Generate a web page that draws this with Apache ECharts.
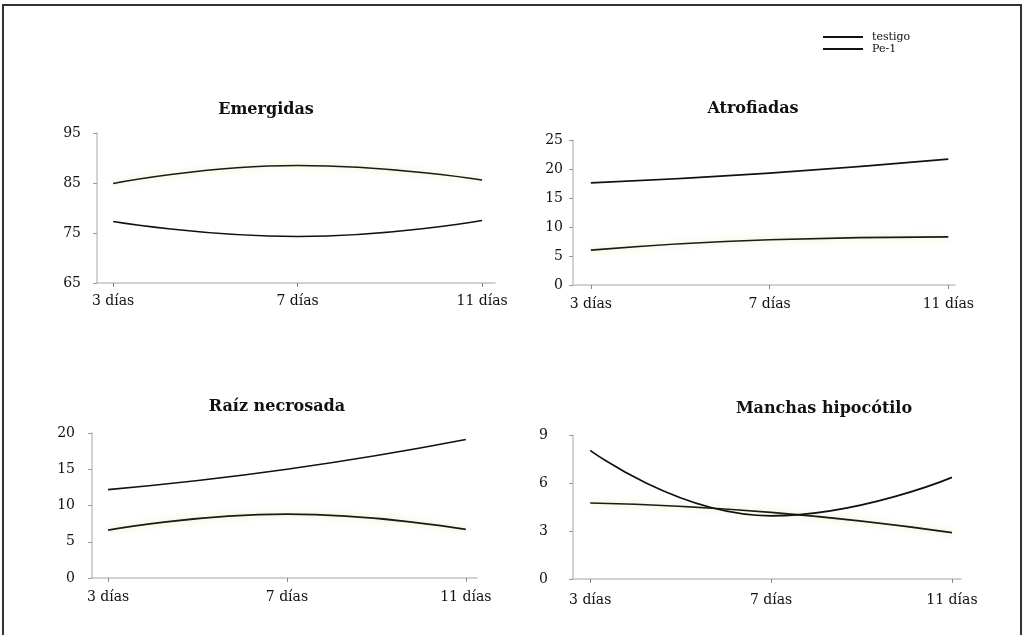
<!DOCTYPE html>
<html>
<head>
<meta charset="utf-8">
<script src="https://cdn.jsdelivr.net/npm/echarts@6/dist/echarts.min.js"></script>
<style>
  html, body { margin: 0; padding: 0; background: #ffffff; }
  #chart { width: 1025px; height: 635px; }
</style>
</head>
<body>
<div id="chart"></div>
<script>
// Sampling days and their axis labels
const days = [3, 7, 11];
const categories = ['3 días', '7 días', '11 días'];
const seriesNames = ['testigo', 'Pe-1'];

// Panel titles
const titles = ['Emergidas', 'Atrofiadas', 'Raíz necrosada', 'Manchas hipocótilo'];

// Values per panel
const testigoEmergidas = [84.9, 88.5, 85.6];
const pe1Emergidas = [77.3, 74.3, 77.5];
const testigoAtrofiadas = [6.0, 7.8, 8.3];
const pe1Atrofiadas = [17.6, 19.3, 21.7];
const testigoRaiz = [6.6, 8.8, 6.7];
const pe1Raiz = [12.2, 15.0, 19.1];
const testigoManchas = [4.75, 4.16, 2.9];
const pe1Manchas = [8.04, 3.95, 6.35];

// Y tick labels per panel
const ticksEmergidas = [65, 75, 85, 95];
const ticksAtrofiadas = [0, 5, 10, 15, 20, 25];
const ticksRaiz = [0, 5, 10, 15, 20];
const ticksManchas = [0, 3, 6, 9];

const panelData = [
  { testigo: testigoEmergidas, pe1: pe1Emergidas, ticks: ticksEmergidas },
  { testigo: testigoAtrofiadas, pe1: pe1Atrofiadas, ticks: ticksAtrofiadas },
  { testigo: testigoRaiz, pe1: pe1Raiz, ticks: ticksRaiz },
  { testigo: testigoManchas, pe1: pe1Manchas, ticks: ticksManchas }
];

// Panel layout (pixels) and the day range spanned by each x axis
const layout = [
  { left: 97,  top: 133, width: 398, height: 150, xMin: 2.65, xMax: 11.28, yMargin: 16, xMargin: 11, tx: 261, ty: 97 },
  { left: 573, top: 140, width: 382, height: 145, xMin: 2.6,  xMax: 11.15, yMargin: 10, xMargin: 12, tx: 748, ty: 96 },
  { left: 92,  top: 433, width: 385, height: 145, xMin: 2.64, xMax: 11.25, yMargin: 17, xMargin: 12, tx: 272, ty: 394 },
  { left: 573, top: 435, width: 388, height: 144, xMin: 2.62, xMax: 11.2,  yMargin: 25, xMargin: 14, tx: 819, ty: 396 }
];

const FONT = 'DejaVu Serif';
const AXIS_GRAY = '#c4c4c4';

const grid = [], xAxis = [], yAxis = [], series = [], title = [];

layout.forEach((L, i) => {
  const P = panelData[i];
  grid.push({ left: L.left, top: L.top, width: L.width, height: L.height, containLabel: false });
  title.push({
    text: titles[i], left: L.tx, top: L.ty, textAlign: 'center',
    textStyle: { fontFamily: FONT, fontWeight: 'bold', fontSize: 16, color: '#111' }
  });
  xAxis.push({
    type: 'value', gridIndex: i, min: L.xMin, max: L.xMax,
    splitLine: { show: false },
    axisLine: { show: true, onZero: false, lineStyle: { color: AXIS_GRAY, width: 1.5 } },
    axisTick: { show: true, customValues: days, length: 4, inside: false, lineStyle: { color: '#888' } },
    axisLabel: {
      customValues: days, margin: L.xMargin,
      formatter: v => categories[days.indexOf(Math.round(v))] || '',
      fontFamily: FONT, fontSize: 14, color: '#111'
    }
  });
  const lo = P.ticks[0], hi = P.ticks[P.ticks.length - 1];
  yAxis.push({
    type: 'value', gridIndex: i, min: lo, max: hi,
    splitLine: { show: false },
    axisLine: { show: true, lineStyle: { color: AXIS_GRAY, width: 1.5 } },
    axisTick: { show: true, customValues: P.ticks, length: 4, lineStyle: { color: '#999' } },
    axisLabel: { customValues: P.ticks, margin: L.yMargin, fontFamily: FONT, fontSize: 14, color: '#111' }
  });
  series.push({
    name: seriesNames[0], type: 'line', xAxisIndex: i, yAxisIndex: i,
    data: days.map((d, k) => [d, P.testigo[k]]),
    smooth: 0.5, showSymbol: false, silent: true,
    lineStyle: { color: '#1a1a1a', width: 1.7, shadowColor: 'rgba(225,225,150,0.9)', shadowBlur: 6 },
    itemStyle: { color: '#1a1a1a' }
  });
  series.push({
    name: seriesNames[1], type: 'line', xAxisIndex: i, yAxisIndex: i,
    data: days.map((d, k) => [d, P.pe1[k]]),
    smooth: 0.5, showSymbol: false, silent: true,
    lineStyle: { color: '#111', width: 1.7 },
    itemStyle: { color: '#111' }
  });
});

const chart = echarts.init(document.getElementById('chart'), null, { renderer: 'canvas' });
chart.setOption({
  backgroundColor: '#ffffff',
  animation: false,
  title: title,
  legend: {
    data: seriesNames, orient: 'vertical', left: 818, top: 26,
    icon: 'rect', itemWidth: 40, itemHeight: 2, itemGap: 0,
    itemStyle: { color: '#111' },
    textStyle: { fontFamily: FONT, fontSize: 11, color: '#111', lineHeight: 12, padding: [0, 0, 0, 4] }
  },
  grid: grid, xAxis: xAxis, yAxis: yAxis, series: series,
  graphic: [
    { type: 'polyline', shape: { points: [[3, 635], [3, 5], [1021, 5], [1021, 635]] },
      style: { stroke: '#333', lineWidth: 2, fill: null }, silent: true }
  ]
});
</script>
</body>
</html>
